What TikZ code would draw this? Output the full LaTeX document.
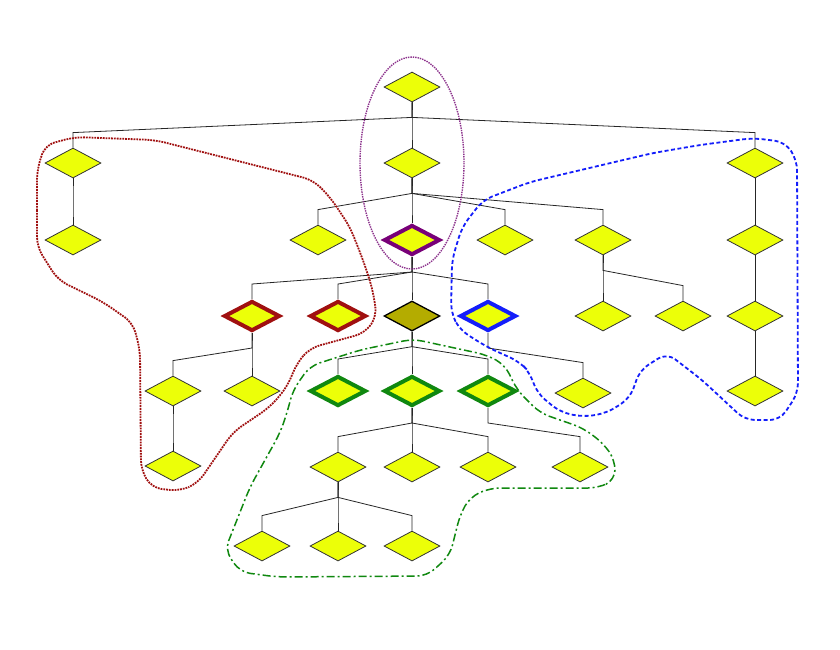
\documentclass[tikz,border=0pt]{standalone}
\usetikzlibrary{shapes.geometric}
\definecolor{yfill}{RGB}{236,255,8}
\definecolor{olivefill}{RGB}{180,172,0}
\definecolor{redb}{RGB}{160,16,16}
\definecolor{blueb}{RGB}{20,30,250}
\definecolor{greenb}{RGB}{16,136,16}
\definecolor{purpleb}{RGB}{120,0,120}
\definecolor{purplel}{RGB}{140,50,140}
\tikzset{
  dia/.style={diamond, draw=black!80, line width=0.8pt, fill=yfill, minimum width=56pt, minimum height=30pt, inner sep=0pt},
  redd/.style={dia, draw=redb, line width=4pt},
  blued/.style={dia, draw=blueb, line width=4pt},
  greend/.style={dia, draw=greenb, line width=4pt},
  purpled/.style={dia, draw=purpleb, line width=4pt},
  olived/.style={dia, draw=black, line width=1.3pt, fill=olivefill},
  conn/.style={draw=black!85, line width=0.8pt},
  grpred/.style={draw=redb, line width=1.8pt, densely dotted, rounded corners=10pt},
  grpblue/.style={draw=blueb, line width=1.8pt, dash pattern=on 4pt off 2.5pt, rounded corners=10pt},
  grpgreen/.style={draw=greenb, line width=1.5pt, dash pattern=on 8pt off 3pt on 2pt off 3pt, rounded corners=10pt},
  grppurple/.style={draw=purplel, line width=1.4pt, densely dotted}
}
\newcommand\lnk[2]{\draw[conn] (#1.south) -- ([yshift=-15pt]#1.south) -- ([yshift=15pt]#2.north) -- (#2.north);}
\begin{document}
\begin{tikzpicture}[x=1pt,y=-1pt]
\useasboundingbox (0,0) rectangle (840,649);
% nodes
\node[dia] (r) at (412,87) {};
\node[dia] (a1) at (73,163) {};
\node[dia] (a2) at (412,163) {};
\node[dia] (a3) at (755,163) {};
\node[dia] (b1) at (73,240) {};
\node[dia] (b2) at (318,240) {};
\node[purpled] (b3) at (412,240) {};
\node[dia] (b4) at (505,240) {};
\node[dia] (b5) at (603,240) {};
\node[dia] (b6) at (755,240) {};
\node[redd] (c1) at (252,316) {};
\node[redd] (c2) at (338,316) {};
\node[olived] (c3) at (412,316) {};
\node[blued] (c4) at (488,316) {};
\node[dia] (c5) at (603,316) {};
\node[dia] (c6) at (683,316) {};
\node[dia] (c7) at (755,316) {};
\node[dia] (d1) at (173,391) {};
\node[dia] (d2) at (252,391) {};
\node[greend] (d3) at (338,391) {};
\node[greend] (d4) at (412,391) {};
\node[greend] (d5) at (488,391) {};
\node[dia] (d6) at (583,393) {};
\node[dia] (d7) at (755,391) {};
\node[dia] (e1) at (173,466) {};
\node[dia] (e2) at (338,467) {};
\node[dia] (e3) at (412,467) {};
\node[dia] (e4) at (488,467) {};
\node[dia] (e5) at (580,467) {};
\node[dia] (f1) at (262,546) {};
\node[dia] (f2) at (338,546) {};
\node[dia] (f3) at (412,546) {};
% links
\lnk{r}{a1}\lnk{r}{a2}\lnk{r}{a3}
\lnk{a1}{b1}
\lnk{a2}{b2}\lnk{a2}{b3}\lnk{a2}{b4}\lnk{a2}{b5}
\lnk{a3}{b6}
\lnk{b3}{c1}\lnk{b3}{c2}\lnk{b3}{c3}\lnk{b3}{c4}
\lnk{b5}{c5}\lnk{b5}{c6}
\lnk{b6}{c7}
\lnk{c1}{d1}\lnk{c1}{d2}
\lnk{c3}{d3}\lnk{c3}{d4}\lnk{c3}{d5}
\lnk{c4}{d6}
\lnk{c7}{d7}
\lnk{d1}{e1}
\lnk{d4}{e2}\lnk{d4}{e3}\lnk{d4}{e4}
\lnk{d5}{e5}
\lnk{e2}{f1}\lnk{e2}{f2}\lnk{e2}{f3}
% groups
\draw[grppurple] (412,163) ellipse [x radius=52, y radius=106];
\draw[grpred] (37,200) -- (37,247) -- (58,280) -- (103,302) -- (133,323) -- (140,350) -- (141,470) -- (152,488) -- (180,491) -- (198,483) -- (233,432) -- (270,407) -- (287,387) -- (297,363) -- (310,348) -- (365,333) -- (377,316) -- (372,287) -- (363,260) -- (350,227) -- (330,197) -- (313,180) -- (155,140) -- (75,137) -- (45,145) -- (37,170) -- cycle;
\draw[grpblue] (700,145) -- (753,138) -- (785,142) -- (797,160) -- (798,393) -- (780,420) -- (745,420) -- (702,380) -- (667,353) -- (640,370) -- (630,398) -- (607,413) -- (583,417) -- (560,412) -- (537,393) -- (530,373) -- (520,362) -- (487,347) -- (460,330) -- (451,313) -- (452,260) -- (462,227) -- (483,200) -- (530,182) -- (653,153) -- cycle;
\draw[grpgreen] (360,350) -- (413,339) -- (487,355) -- (505,365) -- (517,390) -- (540,413) -- (583,428) -- (603,443) -- (615,460) -- (615,480) -- (598,488) -- (490,488) -- (470,497) -- (460,515) -- (450,555) -- (427,576) -- (277,577) -- (240,572) -- (225,550) -- (250,487) -- (280,433) -- (287,413) -- (293,390) -- (310,366) -- cycle;
\end{tikzpicture}
\end{document}
